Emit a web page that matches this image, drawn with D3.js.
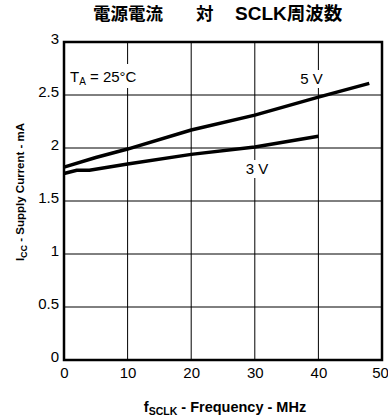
<!DOCTYPE html>
<html>
<head>
<meta charset="utf-8">
<script src="https://cdn.jsdelivr.net/npm/d3@7"></script>
<style>
  body { margin: 0; background: #fff; }
  text { font-family: "Liberation Sans", Arial, sans-serif; }
</style>
</head>
<body>
<svg id="chart" width="388" height="418"></svg>
<script>
// data
const freq5 = [0, 5, 10, 20, 30, 40, 48]
const curr5 = [1.82, 1.91, 1.99, 2.17, 2.31, 2.48, 2.61]
const freq3 = [0, 2, 4, 10, 20, 30, 40]
const curr3 = [1.76, 1.79, 1.79, 1.85, 1.94, 2.01, 2.11]
const xTicks = [0, 10, 20, 30, 40, 50]
const yTicks = [0, 0.5, 1, 1.5, 2, 2.5, 3]

const svg = d3.select('#chart')
const plotL = 64, plotR = 382, plotT = 42, plotB = 360

const x = d3.scaleLinear().domain([0, 50]).range([plotL, plotR])
const y = d3.scaleLinear().domain([0, 3]).range([plotB, plotT])

// title, three runs placed like the reference
const cjk = '"Noto Sans CJK JP", sans-serif'
const title = svg.append('g')
  .attr('font-weight', 'bold')
title.append('text')
  .attr('x', 93).attr('y', 20)
  .attr('font-size', 17.5)
  .style('font-family', cjk)
  .text('電源電流')
title.append('text')
  .attr('x', 196).attr('y', 20)
  .attr('font-size', 17.5)
  .style('font-family', cjk)
  .text('対')
const t3 = title.append('text')
  .attr('x', 235).attr('y', 20)
t3.append('tspan').attr('font-size', 19)
  .style('font-family', '"Liberation Sans", Arial, sans-serif')
  .text('SCLK')
t3.append('tspan').attr('font-size', 18.5)
  .style('font-family', cjk)
  .text('周波数')

// grid
const grid = svg.append('g')
grid.selectAll('.vx')
  .data(xTicks.slice(1, -1))
  .enter().append('line')
  .attr('x1', d => x(d)).attr('x2', d => x(d))
  .attr('y1', plotT).attr('y2', plotB)
  .attr('stroke', '#000').attr('stroke-width', 1)
grid.selectAll('.hy')
  .data(yTicks.slice(1, -1))
  .enter().append('line')
  .attr('x1', plotL).attr('x2', plotR)
  .attr('y1', d => y(d)).attr('y2', d => y(d))
  .attr('stroke', '#000').attr('stroke-width', 1)

// axes (tick labels only, frame drawn below)
const xAxis = svg.append('g')
  .attr('transform', 'translate(0,' + plotB + ')')
  .call(d3.axisBottom(x).tickValues(xTicks).tickSize(0).tickPadding(7).tickFormat(d3.format('d')))
xAxis.select('.domain').remove()
xAxis.selectAll('text').attr('font-size', 15).attr('fill', '#000')
  .attr('dx', d => d === 50 ? -2 : 0)
  .style('font-family', '"Liberation Sans", Arial, sans-serif')

const yAxis = svg.append('g')
  .attr('transform', 'translate(' + plotL + ',0)')
  .call(d3.axisLeft(y).tickValues(yTicks).tickSize(0).tickPadding(5).tickFormat(d => d))
yAxis.select('.domain').remove()
yAxis.selectAll('text').attr('font-size', 15).attr('fill', '#000').attr('dy', '0.1em')
  .style('font-family', '"Liberation Sans", Arial, sans-serif')

// frame
svg.append('rect')
  .attr('x', plotL).attr('y', plotT)
  .attr('width', plotR - plotL).attr('height', plotB - plotT)
  .attr('fill', 'none').attr('stroke', '#000').attr('stroke-width', 2.5)

// labels with white backing
function label(tx, ty, txt, w, h) {
  svg.append('rect')
    .attr('x', tx - w / 2).attr('y', ty - h + 4)
    .attr('width', w).attr('height', h)
    .attr('fill', '#fff')
  svg.append('text')
    .attr('x', tx).attr('y', ty)
    .attr('text-anchor', 'middle')
    .attr('font-size', 15)
    .text(txt)
}

label(311.5, 84, '5 V', 26, 18)
label(257, 174, '3 V', 26, 18)

svg.append('rect')
  .attr('x', 67).attr('y', 64).attr('width', 73).attr('height', 24)
  .attr('fill', '#fff')
const ta = svg.append('text').attr('x', 70).attr('y', 82).attr('font-size', 15)
ta.append('tspan').text('T')
ta.append('tspan').attr('font-size', 10).attr('dy', 3).text('A')
ta.append('tspan').attr('dy', -3).text(' = 25°C')

// curves
const line = d3.line().x(d => x(d[0])).y(d => y(d[1]))
svg.append('path')
  .datum(d3.zip(freq5, curr5))
  .attr('d', line)
  .attr('fill', 'none').attr('stroke', '#000').attr('stroke-width', 3.5)
svg.append('path')
  .datum(d3.zip(freq3, curr3))
  .attr('d', line)
  .attr('fill', 'none').attr('stroke', '#000').attr('stroke-width', 3.5)

// axis titles
const xt = svg.append('text')
  .attr('x', 225).attr('y', 412)
  .attr('text-anchor', 'middle')
  .attr('font-size', 14.5).attr('font-weight', 'bold')
xt.append('tspan').text('f')
xt.append('tspan').attr('font-size', 10.5).attr('dy', 3).text('SCLK')
xt.append('tspan').attr('dy', -3).text(' - Frequency - MHz')

const yt = svg.append('text')
  .attr('transform', 'translate(24,' + 192 + ') rotate(-90)')
  .attr('text-anchor', 'middle')
  .attr('font-size', 11.5).attr('font-weight', 'bold')
yt.append('tspan').text('I')
yt.append('tspan').attr('font-size', 9).attr('dy', 3).text('CC')
yt.append('tspan').attr('dy', -3).text(' - Supply Current - mA')
</script>
</body>
</html>
